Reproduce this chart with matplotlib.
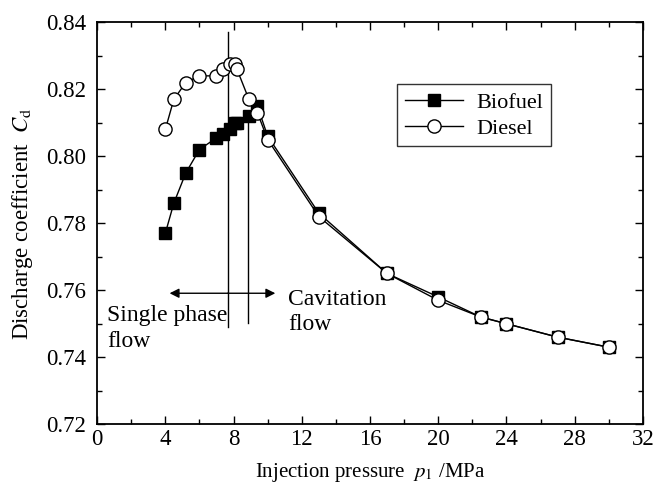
import matplotlib
matplotlib.use("Agg")
import matplotlib.pyplot as plt
from matplotlib.ticker import MultipleLocator

# data
pressure = [4.0, 4.5, 5.2, 6.0, 7.0, 7.4, 7.8, 8.1, 8.2, 8.9, 9.4, 10.0,
            13.0, 17.0, 20.0, 22.5, 24.0, 27.0, 30.0]
biofuel = [0.777, 0.786, 0.795, 0.802, 0.8055, 0.8065, 0.808, 0.810, 0.810,
           0.812, 0.815, 0.806, 0.783, 0.765, 0.758, 0.752, 0.750, 0.746, 0.743]
diesel = [0.808, 0.817, 0.822, 0.824, 0.824, 0.826, 0.8275, 0.8275, 0.826,
          0.817, 0.813, 0.805, 0.782, 0.765, 0.757, 0.752, 0.750, 0.746, 0.743]

plt.rcParams["font.family"] = ["Liberation Serif", "DejaVu Serif"]
plt.rcParams["mathtext.fontset"] = "stix"

fig = plt.figure(figsize=(6.56, 4.95), dpi=100)
ax = fig.add_axes([0.148, 0.143, 0.832, 0.812])

ax.plot(pressure, biofuel, "-", color="black", lw=1.0, marker="s",
        ms=8, mfc="black", mec="black", label="Biofuel", zorder=3)
ax.plot(pressure, diesel, "-", color="black", lw=1.0, marker="o",
        ms=9.5, mfc="white", mec="black", mew=1.0, label="Diesel", zorder=4)

# boundary lines between the flow regimes
ax.plot([7.66, 7.66], [0.749, 0.8372], color="black", lw=1.0, zorder=2)
ax.plot([8.87, 8.87], [0.7503, 0.812], color="black", lw=1.0, zorder=2)

ax.annotate("", xy=(4.25, 0.7591), xytext=(7.66, 0.7591),
            arrowprops=dict(arrowstyle="-|>", color="black", lw=1.0,
                            mutation_scale=14, shrinkA=0, shrinkB=0))
ax.annotate("", xy=(10.45, 0.7591), xytext=(7.66, 0.7591),
            arrowprops=dict(arrowstyle="-|>", color="black", lw=1.0,
                            mutation_scale=14, shrinkA=0, shrinkB=0))

ax.text(0.6, 0.7556, "Single phase\nflow", fontsize=17, va="top", ha="left",
        linespacing=1.3)
ax.text(11.2, 0.7605, "Cavitation\nflow", fontsize=17, va="top", ha="left",
        linespacing=1.3)

ax.set_xlim(0, 32)
ax.set_ylim(0.72, 0.84)
ax.xaxis.set_major_locator(MultipleLocator(4))
ax.xaxis.set_minor_locator(MultipleLocator(2))
ax.yaxis.set_major_locator(MultipleLocator(0.02))
ax.yaxis.set_minor_locator(MultipleLocator(0.01))
ax.yaxis.set_major_formatter(plt.FormatStrFormatter("%.2f"))

ax.tick_params(which="both", direction="in", top=True, right=True,
               width=1.0, labelsize=16.5)
ax.tick_params(which="major", length=6)
ax.tick_params(which="minor", length=3.5)
ax.tick_params(axis="y", which="major", pad=8)
for sp in ax.spines.values():
    sp.set_linewidth(1.3)

ax.set_xlabel(r"Injection pressure  $p_{\rm 1}$ /MPa", fontsize=15, labelpad=8)
ax.set_ylabel(r"Discharge coefficient  $C_{\rm d}$", fontsize=16.5, labelpad=8)

leg = ax.legend(loc="upper left", bbox_to_anchor=(0.55, 0.846), fontsize=16,
                frameon=True, fancybox=False, edgecolor="black",
                borderaxespad=0, borderpad=0.35, handlelength=2.6,
                handletextpad=0.6, labelspacing=0.25)
leg.get_frame().set_linewidth(1.0)

fig.savefig("out.png", dpi=100)
